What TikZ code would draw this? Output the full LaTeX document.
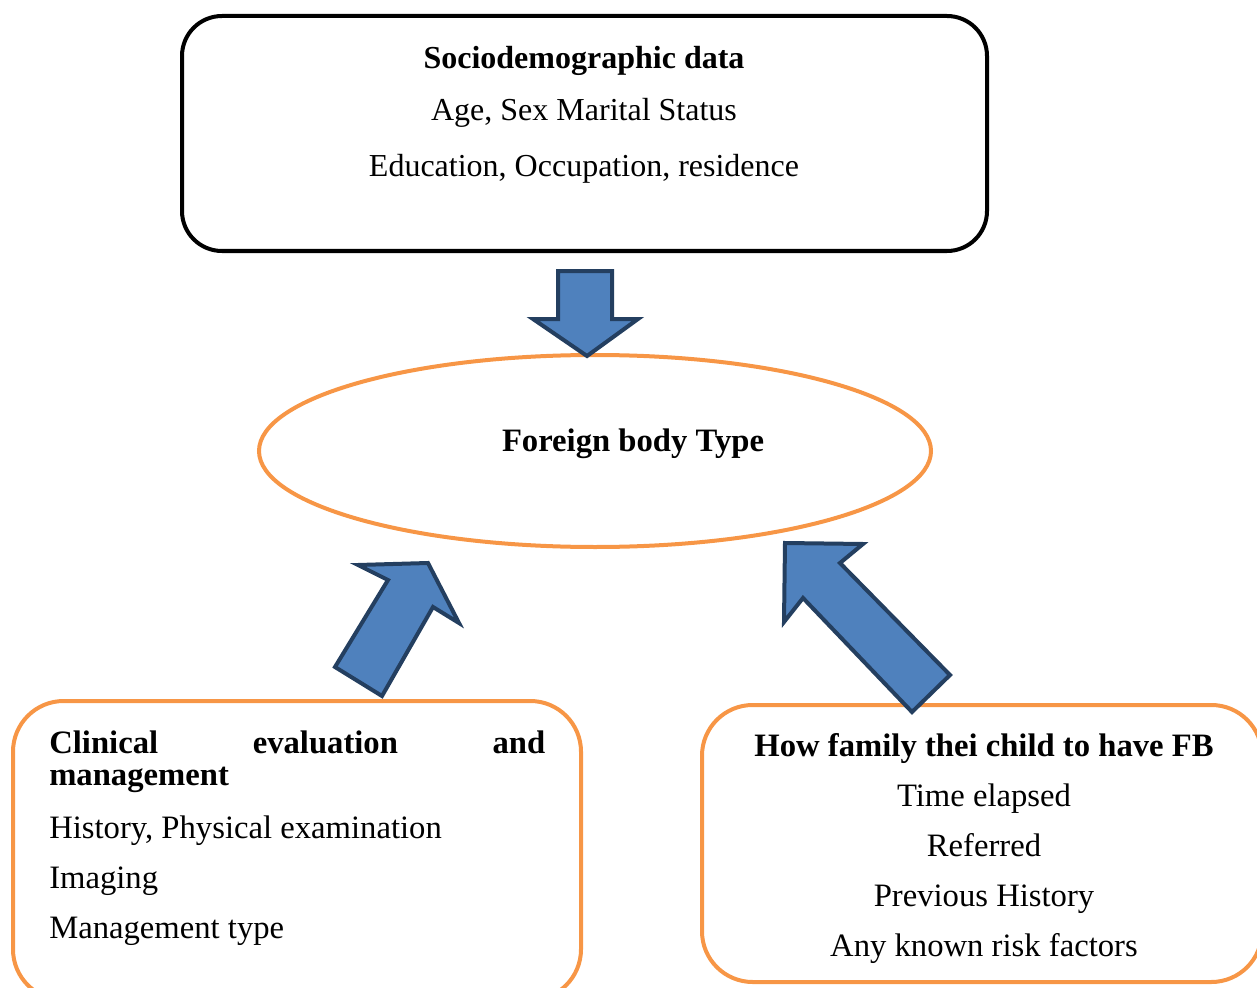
\documentclass[tikz,border=0pt]{standalone}
\usepackage{fontspec}
\setmainfont{Liberation Serif}
\usetikzlibrary{shapes.geometric}
\definecolor{fborange}{HTML}{F79646}
\definecolor{fbfill}{HTML}{4F81BD}
\definecolor{fbdark}{HTML}{243F60}
\tikzset{
  topbox/.style={draw=black, line width=3pt, rounded corners=30pt, inner sep=0pt},
  obox/.style={draw=fborange, line width=3pt, rounded corners=38pt, inner sep=0pt},
  oell/.style={draw=fborange, line width=3pt, ellipse, inner sep=0pt},
  barrow/.style={fill=fbfill, draw=fbdark, line width=3pt, line join=miter},
  ttxt/.style={anchor=base, inner sep=0pt, font=\fontsize{24}{28}\selectfont},
  btxt/.style={anchor=base, inner sep=0pt, font=\fontsize{24.5}{28}\selectfont},
  ltxt/.style={anchor=base west, inner sep=0pt, font=\fontsize{24.5}{28}\selectfont},
}
\begin{document}
\begin{tikzpicture}[x=0.75pt,y=-0.75pt]
\useasboundingbox (0,0) rectangle (1257,988);
% shapes
\node[topbox, minimum width=603.75pt, minimum height=176.25pt] (top) at (584.5,133.5) {};
\node[oell, minimum width=504pt, minimum height=144pt] (fb) at (595,451) {};
\node[obox, minimum width=426pt, minimum height=224.25pt] (left) at (297,850.5) {};
\node[obox, minimum width=420pt, minimum height=207.75pt] (right) at (982,843.5) {};
% arrows
\draw[barrow] (558,271) -- (612,271) -- (612,319) -- (638,319) -- (587,356) -- (533,319) -- (558,319) -- cycle;
\draw[barrow] (335,667) -- (388,580) -- (358,565) -- (428,563) -- (459,623) -- (433,607) -- (382,696) -- cycle;
\draw[barrow] (950,675) -- (840,563) -- (863,544) -- (785,543) -- (784,622) -- (803,598) -- (912,712) -- cycle;
% texts
\node[ttxt, font=\fontsize{24}{28}\selectfont\bfseries] (t1) at (584,69) {Sociodemographic data};
\node[ttxt] (t2) at (584,121) {Age, Sex Marital Status};
\node[ttxt] (t3) at (584,177) {Education, Occupation, residence};
\node[btxt, font=\fontsize{24.5}{28}\selectfont\bfseries] (f1) at (633,451) {Foreign body Type};
\node[ltxt, font=\fontsize{24.5}{28}\selectfont\bfseries, text width=372pt] (l1) at (49,753) {Clinical\hfill evaluation\hfill and};
\node[ltxt, font=\fontsize{24.5}{28}\selectfont\bfseries] (l2) at (49,785) {management};
\node[ltxt] (l3) at (49,838) {History, Physical examination};
\node[ltxt] (l4) at (49,888) {Imaging};
\node[ltxt] (l5) at (49,938) {Management type};
\node[btxt, font=\fontsize{24.5}{28}\selectfont\bfseries] (r1) at (984,756) {How family thei child to have FB};
\node[btxt] (r2) at (984,806) {Time elapsed};
\node[btxt] (r3) at (984,856) {Referred};
\node[btxt] (r4) at (984,906) {Previous History};
\node[btxt] (r5) at (984,956) {Any known risk factors};
\end{tikzpicture}
\end{document}
